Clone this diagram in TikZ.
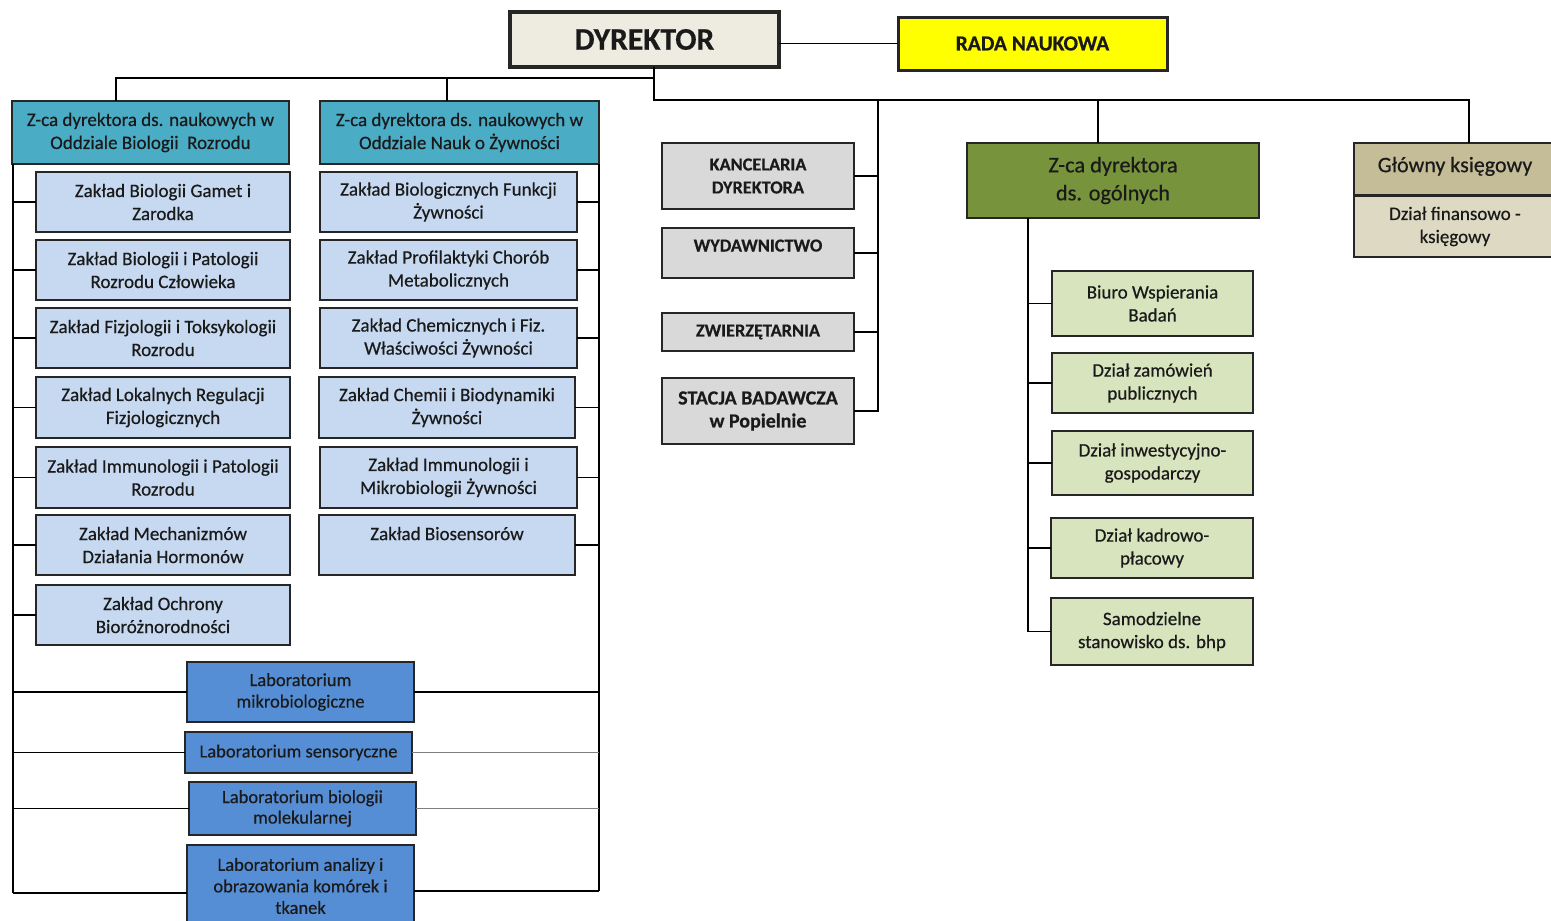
\documentclass[tikz,border=0pt]{standalone}
\usepackage{fontspec}
\setmainfont{Carlito}[FakeBold=0.5]
\definecolor{bord}{HTML}{262626}
\definecolor{txt}{HTML}{1A1A1A}
\definecolor{dyrfill}{HTML}{EEECE1}
\definecolor{radafill}{HTML}{FFFF00}
\definecolor{zcafill}{HTML}{4BACC6}
\definecolor{zakfill}{HTML}{C6D9F1}
\definecolor{labfill}{HTML}{558ED5}
\definecolor{grayfill}{HTML}{D9D9D9}
\definecolor{ogfill}{HTML}{77933C}
\definecolor{grnfill}{HTML}{D7E4BD}
\definecolor{gkfill}{HTML}{C4BD97}
\definecolor{dffill}{HTML}{DDD9C3}
\definecolor{lngray}{HTML}{7F7F7F}
\newcommand\mkbox[7]{\node[#2, minimum width={(#5-#3)*1pt}, minimum height={(#6-#4)*1pt}] (#1) at ({(#3+#5)/2},{(#4+#6)/2}) {#7};}
\begin{document}
\begin{tikzpicture}[x=1pt,y=-1pt,
  bx/.style={draw=bord, line width=1.4pt, align=center, inner sep=0pt, outer sep=0pt, text=txt, font=\fontsize{19}{23}\selectfont},
  zak/.style={bx, fill=zakfill},
  zca/.style={bx, fill=zcafill},
  lab/.style={bx, fill=labfill, font=\fontsize{18.5}{21.5}\selectfont},
  gry/.style={bx, fill=grayfill, font=\bfseries\fontsize{18.3}{23}\selectfont},
  grn/.style={bx, fill=grnfill},
  ln/.style={draw=black, line width=1.3pt},
  lng/.style={draw=lngray, line width=1.5pt},
]
\useasboundingbox (0,0) rectangle (1551,921);
% top
\mkbox{dyr}{bx, fill=dyrfill, line width=3.2pt, font=\bfseries\fontsize{31.5}{34}\selectfont}{510}{12}{779}{67}{DYREKTOR}
\mkbox{rada}{bx, fill=radafill, line width=3pt, font=\bfseries\fontsize{21.5}{23}\selectfont}{898}{17}{1167}{70}{RADA NAUKOWA}
% scientific deputies
\mkbox{zc1}{zca}{12}{101}{289}{164}{Z-ca dyrektora ds. naukowych w\\Oddziale Biologii~ Rozrodu}
\mkbox{zc2}{zca}{320}{101}{599}{164}{Z-ca dyrektora ds. naukowych w\\Oddziale Nauk o Żywności}
% left column
\mkbox{a1}{zak}{36}{172}{290}{232}{Zakład Biologii Gamet i\\Zarodka}
\mkbox{a2}{zak}{36}{240}{290}{300}{Zakład Biologii i Patologii\\Rozrodu Człowieka}
\mkbox{a3}{zak}{36}{308}{290}{368}{Zakład Fizjologii i Toksykologii\\Rozrodu}
\mkbox{a4}{zak}{36}{377}{290}{438}{Zakład Lokalnych Regulacji\\Fizjologicznych}
\mkbox{a5}{zak}{36}{447}{290}{508}{Zakład Immunologii i Patologii\\Rozrodu}
\mkbox{a6}{zak}{36}{515}{290}{575}{Zakład Mechanizmów\\Działania Hormonów}
\mkbox{a7}{zak}{36}{585}{290}{645}{Zakład Ochrony\\Bioróżnorodności}
% right column
\mkbox{b1}{zak}{320}{172}{577}{232}{Zakład Biologicznych Funkcji\\Żywności}
\mkbox{b2}{zak}{320}{240}{577}{300}{Zakład Profilaktyki Chorób\\Metabolicznych}
\mkbox{b3}{zak}{320}{308}{577}{368}{Zakład Chemicznych i Fiz.\\Właściwości Żywności}
\mkbox{b4}{zak}{319}{377}{575}{438}{Zakład Chemii i Biodynamiki\\Żywności}
\mkbox{b5}{zak}{320}{447}{577}{508}{Zakład Immunologii i\\Mikrobiologii Żywności}
\mkbox{b6}{zak}{319}{515}{575}{575}{Zakład Biosensorów\\~}
% labs
\mkbox{l1}{lab}{187}{662}{414}{722}{Laboratorium\\mikrobiologiczne}
\mkbox{l2}{lab}{185}{732}{412}{773}{Laboratorium sensoryczne}
\mkbox{l3}{lab, font=\fontsize{18.5}{20.5}\selectfont}{189}{782}{416}{835}{Laboratorium biologii\\molekularnej}
\mkbox{l4}{lab}{187}{845}{414}{927}{Laboratorium analizy i\\obrazowania komórek i\\tkanek}
% middle gray
\mkbox{kan}{gry}{662}{143}{854}{209}{KANCELARIA\\DYREKTORA}
\mkbox{wyd}{gry}{662}{228}{854}{278}{WYDAWNICTWO\\[-8pt]\mbox{}}
\mkbox{zwi}{gry}{662}{313}{854}{351}{ZWIERZĘTARNIA}
\mkbox{sta}{gry, font=\bfseries\fontsize{20}{23}\selectfont}{662}{378}{854}{444}{STACJA BADAWCZA\\w Popielnie}
% general deputy
\mkbox{zo}{bx, fill=ogfill, font=\fontsize{22.3}{28}\selectfont}{967}{143}{1259}{218}{Z-ca dyrektora\\ds. ogólnych}
\mkbox{g1}{grn}{1052}{271}{1253}{336}{Biuro Wspierania\\Badań}
\mkbox{g2}{grn}{1052}{353}{1253}{413}{Dział zamówień\\publicznych}
\mkbox{g3}{grn}{1052}{431}{1253}{495}{Dział inwestycyjno-\\gospodarczy}
\mkbox{g4}{grn}{1051}{518}{1253}{578}{Dział kadrowo-\\płacowy}
\mkbox{g5}{grn}{1051}{598}{1253}{665}{Samodzielne\\stanowisko ds. bhp}
% accountant
\mkbox{gk}{bx, fill=gkfill, line width=2pt, font=\fontsize{22}{25}\selectfont}{1354}{143}{1556}{195}{Główny księgowy\\[-16pt]\mbox{}}
\mkbox{df}{grn, fill=dffill}{1354}{196}{1556}{257}{Dział finansowo -\\księgowy}
% coordinates
\coordinate (j0) at (654,78);
\coordinate (j1) at (654,100);
\coordinate (xa) at (116,78);
\coordinate (xb) at (447,78);
\coordinate (tL) at (13,893);
\coordinate (tR) at (599,891);
\coordinate (xm) at (878,0);
\coordinate (xo) at (1098,0);
\coordinate (xk) at (1469,0);
\coordinate (xg) at (1028,0);
% connectors top
\draw[ln] (dyr.east |- rada.west) -- (rada.west);
\draw[ln] (dyr.south -| j1) -- (j1) -- (j1 -| xk) -- (gk.north -| xk);
\draw[ln] (zc1.north -| xa) -- (xa) -- (j0);
\draw[ln] (zc2.north -| xb) -- (xb);
\draw[ln] (j1 -| xo) -- (zo.north -| xo);
% left trunk
\draw[ln] (zc1.south -| tL) -- (tL);
\foreach \n in {a1,a2,a3,a4,a5,a6,a7}{\draw[ln] (\n.west -| tL) -- (\n.west);}
% right trunk
\draw[ln] (zc2.south -| tR) -- (tR);
\foreach \n in {b1,b2,b3,b4,b5,b6}{\draw[ln] (\n.east) -- (\n.east -| tR);}
% labs
\draw[ln] (tL |- l1.west) -- (l1.west);
\draw[ln] (l1.east) -- (l1.east -| tR);
\draw[ln] (tL |- l2.west) -- (l2.west);
\draw[lng] (l2.east) -- (l2.east -| tR);
\draw[ln] (tL |- l3.west) -- (l3.west);
\draw[lng] (l3.east) -- (l3.east -| tR);
\draw[ln] (tL) -- (tL -| l4.west);
\draw[ln] (tR -| l4.east) -- (tR);
% middle
\draw[ln] (j1 -| xm) -- (sta.east -| xm) -- (sta.east);
\foreach \n in {kan,wyd,zwi}{\draw[ln] (\n.east) -- (\n.east -| xm);}
% general deputy branch
\draw[ln] (zo.south -| xg) -- (g5.west -| xg) -- (g5.west);
\foreach \n in {g1,g2,g3,g4}{\draw[ln] (\n.west -| xg) -- (\n.west);}
\end{tikzpicture}
\end{document}
